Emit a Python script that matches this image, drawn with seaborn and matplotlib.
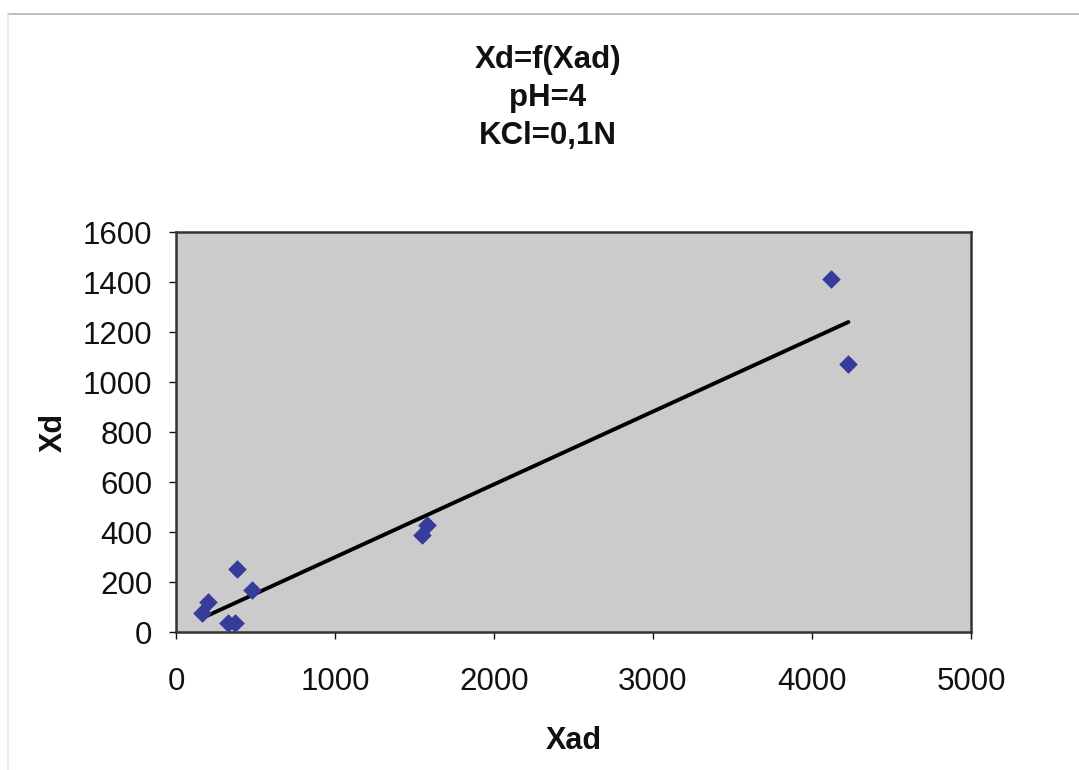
import matplotlib
matplotlib.use("Agg")
import matplotlib.pyplot as plt
import seaborn as sns
import pandas as pd
from matplotlib.lines import Line2D

# Data
xad = [162, 203, 330, 370, 382, 476, 1550, 1580, 4117, 4229]
xd = [75, 121, 35, 38, 251, 168, 390, 430, 1412, 1071]
trend_x = [162, 4229]
trend_y = [55, 1240]
x_ticks = [0, 1000, 2000, 3000, 4000, 5000]
y_ticks = [0, 200, 400, 600, 800, 1000, 1200, 1400, 1600]
title_lines = ["Xd=f(Xad)", "pH=4", "KCl=0,1N"]

sns.set_theme(style="white")
plt.rcParams['font.family'] = ['Liberation Sans', 'DejaVu Sans']

W, H = 1079, 770
fig = plt.figure(figsize=(W / 100, H / 100), dpi=100)
fig.patch.set_facecolor("white")
ax = fig.add_axes([176 / W, 1 - 632 / H, (971 - 176) / W, (632 - 232) / H])
ax.set_facecolor("#cbcbcb")

pts = pd.DataFrame({"Xad": xad, "Xd": xd})
trend = pd.DataFrame({"Xad": trend_x, "Xd": trend_y})
sns.lineplot(data=trend, x="Xad", y="Xd", ax=ax, color="black", linewidth=2.8, zorder=2)
sns.scatterplot(data=pts, x="Xad", y="Xd", ax=ax, marker="D", s=80,
                color="#353c9a", edgecolor="#353c9a", linewidth=0.5, zorder=3)

ax.set_xlim(0, 5000)
ax.set_ylim(0, 1600)
ax.set_xticks(x_ticks)
ax.set_yticks(y_ticks)
ax.tick_params(axis="both", labelsize=22.5, colors="#111111", length=5, width=1,
               direction="out", bottom=True, left=True)
ax.tick_params(axis="x", pad=20)
ax.tick_params(axis="y", pad=12)
for s in ax.spines.values():
    s.set_color("#333333")
    s.set_linewidth(1.8)

ax.set_xlabel("Xad", fontsize=22, fontweight="bold", labelpad=21, color="#111111")
ax.set_ylabel("Xd", fontsize=22, fontweight="bold", labelpad=10, color="#111111")

for i, t in enumerate(title_lines):
    fig.text(548 / W, 1 - (60 + 38 * i) / H, t, ha="center", va="center",
             fontsize=22.5, fontweight="bold", color="#111111")

# scan frame lines
fig.add_artist(Line2D([8 / W, 1.0], [1 - 14 / H, 1 - 14 / H], color="#b0b0b0", linewidth=1.2))
fig.add_artist(Line2D([8 / W, 8 / W], [0, 1 - 14 / H], color="#e6e6e6", linewidth=1.2))

fig.savefig("out.png", dpi=100)
